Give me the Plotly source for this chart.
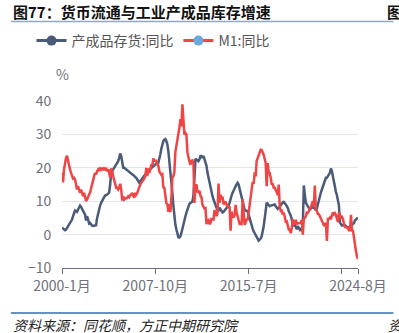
import plotly.graph_objects as go

# ---------------- data ----------------
years = list(range(2000, 2025))
months = [f"{y}-{m}月" for y in years for m in range(1, 13)][:296]

inventory_yoy = [
    # 2000
    2.1, 1.8, 1.5, 1.3, 1.5, 2.0, 2.5, 3.0, 3.3, 3.6, 4.5, 5.5,
    # 2001
    6.5, 7.2, 7.0, 6.8, 7.5, 8.0, 8.7, 8.3, 7.8, 7.2, 6.5, 6.0,
    # 2002
    4.2, 5.5, 4.5, 3.3, 3.5, 3.0, 2.7, 2.6, 2.7, 2.7, 2.8, 5.0,
    # 2003
    6.5, 8.0, 8.7, 9.5, 10.2, 10.8, 11.2, 11.7, 11.8, 12.0, 12.3, 12.6,
    # 2004
    15.0, 18.6, 19.0, 19.5, 20.0, 20.5, 21.0, 21.5, 22.0, 23.0, 24.3, 23.5,
    # 2005
    21.5, 20.0, 20.0, 19.8, 19.5, 19.2, 19.0, 18.8, 18.5, 18.3, 18.0, 17.8,
    # 2006
    17.6, 17.2, 17.0, 16.5, 16.2, 15.6, 16.0, 16.5, 17.0, 17.3, 17.6, 18.0,
    # 2007
    18.5, 18.8, 19.1, 19.4, 19.7, 20.0, 20.3, 20.6, 20.8, 21.0, 21.2, 21.5,
    # 2008
    21.5, 22.5, 24.0, 25.7, 27.0, 28.0, 28.4, 28.6, 28.0, 27.0, 25.0, 22.0,
    # 2009
    20.0, 16.8, 12.5, 8.7, 5.0, 3.0, 1.5, 0.0, -0.8, -0.9, -0.5, 0.5,
    # 2010
    2.0, 2.7, 4.0, 5.5, 6.6, 7.7, 8.7, 9.2, 9.5, 9.6, 10.0, 11.7,
    # 2011
    17.0, 22.7, 22.5, 22.2, 22.0, 22.5, 23.5, 23.5, 23.0, 23.6, 22.5, 21.5,
    # 2012
    20.6, 18.5, 17.0, 15.6, 13.5, 12.6, 11.5, 10.5, 9.5, 8.7, 8.0, 7.2,
    # 2013
    7.2, 8.1, 7.5, 7.0, 6.6, 6.8, 7.2, 7.5, 7.8, 8.2, 8.7, 9.5,
    # 2014
    11.0, 11.7, 12.5, 13.0, 13.8, 14.5, 15.0, 15.5, 15.0, 13.8, 12.5, 11.0,
    # 2015
    9.6, 8.5, 7.5, 7.2, 7.0, 7.0, 6.0, 4.8, 3.8, 2.8, 1.8, 1.0,
    # 2016
    0.5, 0.0, -0.5, -1.2, -1.8, -1.5, -1.2, -0.5, 0.6, 2.5, 4.8, 7.5,
    # 2017
    9.6, 9.2, 8.7, 8.5, 8.7, 8.8, 9.0, 9.0, 9.0, 8.5, 8.0, 7.7,
    # 2018
    8.0, 8.5, 9.0, 9.3, 9.6, 9.8, 9.5, 9.0, 8.5, 8.0, 7.0, 6.5,
    # 2019
    5.7, 4.5, 3.6, 2.5, 3.0, 2.2, 1.6, 2.5, 1.8, 1.5, 2.0, 1.0,
    # 2020
    3.0, 14.7, 12.0, 9.6, 9.0, 8.5, 8.0, 7.5, 7.8, 8.0, 8.2, 8.0,
    # 2021
    8.0, 7.2, 7.8, 9.0, 10.5, 12.0, 12.6, 13.5, 14.5, 15.5, 16.5, 17.0,
    # 2022
    17.0, 17.4, 17.8, 18.5, 19.8, 19.0, 17.4, 15.5, 13.8, 12.8, 11.8, 10.5,
    # 2023
    8.7, 3.6, 3.2, 2.7, 2.8, 3.0, 2.8, 2.5, 2.2, 2.0, 2.2, 2.5,
    # 2024
    3.0, 3.0, 3.2, 3.5, 4.2, 4.5, 4.8, 5.1,
]

m1_yoy = [
    # 2000
    18.6, 15.6, 19.5, 21.5, 23.0, 23.6, 22.0, 21.0, 19.5, 18.5, 17.5, 16.8,
    # 2001
    17.0, 16.5, 15.0, 13.5, 14.5, 13.0, 12.5, 13.5, 12.0, 11.5, 12.5, 11.0,
    # 2002
    10.0, 10.5, 11.5, 12.0, 12.6, 14.0, 15.5, 16.5, 17.5, 18.5, 18.0, 19.0,
    # 2003
    19.5, 19.0, 19.8, 19.5, 20.0, 19.3, 19.8, 19.5, 20.0, 19.0, 19.5, 18.5,
    # 2004
    17.0, 19.8, 19.0, 17.5, 16.0, 14.5, 14.0, 14.0, 13.5, 14.0, 15.2, 13.6,
    # 2005
    10.2, 11.5, 10.5, 10.8, 10.8, 11.0, 11.5, 11.2, 11.8, 12.0, 12.5, 11.8,
    # 2006
    11.0, 12.5, 12.0, 12.5, 13.5, 14.0, 15.0, 15.5, 15.8, 16.3, 16.8, 17.5,
    # 2007
    20.0, 17.5, 19.8, 18.5, 19.5, 21.0, 20.6, 22.8, 22.1, 22.2, 22.1, 21.0,
    # 2008
    20.7, 18.9, 18.3, 17.9, 18.1, 14.2, 14.0, 11.6, 9.4, 9.1, 6.8, 9.1,
    # 2009
    6.7, 10.9, 17.0, 17.5, 18.7, 24.8, 26.4, 27.7, 29.5, 32.0, 34.6, 32.4,
    # 2010
    39.0, 35.0, 29.9, 30.4, 29.9, 24.6, 22.9, 21.9, 20.9, 22.1, 22.2, 21.2,
    # 2011
    9.5, 14.5, 15.0, 12.9, 12.7, 13.1, 11.6, 11.2, 8.9, 8.4, 7.8, 7.9,
    # 2012
    3.1, 4.3, 4.4, 3.1, 3.5, 4.7, 4.6, 4.5, 7.3, 6.1, 5.5, 6.5,
    # 2013
    15.3, 9.5, 11.9, 11.0, 11.3, 9.1, 9.7, 9.9, 8.9, 8.9, 8.0, 8.5,
    # 2014
    1.2, 6.9, 5.4, 5.3, 5.7, 8.9, 6.7, 5.7, 4.8, 3.2, 3.2, 3.2,
    # 2015
    10.6, 5.6, 2.9, 3.7, 4.7, 4.3, 6.6, 9.3, 11.4, 14.0, 15.7, 15.2,
    # 2016
    18.6, 17.4, 22.1, 22.9, 23.7, 24.6, 25.4, 25.3, 24.7, 23.9, 22.7, 21.4,
    # 2017
    14.5, 21.4, 18.8, 18.5, 17.0, 15.0, 15.3, 14.0, 14.0, 13.0, 12.7, 11.8,
    # 2018
    15.0, 8.5, 7.1, 7.2, 6.0, 6.6, 5.1, 3.9, 4.0, 2.7, 1.5, 1.5,
    # 2019
    0.4, 2.0, 4.6, 2.9, 3.4, 4.4, 3.1, 3.4, 3.4, 3.3, 3.5, 4.4,
    # 2020
    0.0, 4.8, 5.0, 5.5, 6.8, 6.5, 6.9, 8.0, 8.1, 9.1, 10.0, 8.6,
    # 2021
    14.7, 7.4, 7.1, 6.2, 6.1, 5.5, 4.9, 4.2, 3.7, 2.8, 3.0, 3.5,
    # 2022
    -1.9, 4.7, 4.7, 5.1, 4.6, 5.8, 6.7, 6.1, 6.4, 5.8, 4.6, 3.7,
    # 2023
    6.7, 5.8, 5.1, 5.3, 4.7, 3.1, 2.3, 2.2, 2.1, 1.9, 1.3, 1.3,
    # 2024
    5.9, 1.2, 1.1, -1.4, -4.2, -5.0, -6.6, -7.3,
]

series_names = ["产成品存货:同比", "M1:同比"]
tick_vals = ["2000-1月", "2007-10月", "2015-7月", "2023-4月", "2024-8月"]
tick_text = ["2000-1月", "2007-10月", "2015-7月", "", "2024-8月"]
y_ticks = [-10, 0, 10, 20, 30, 40]

assert len(months) == len(inventory_yoy) == len(m1_yoy) == 296

# ---------------- style ----------------
W, H = 399, 333
L, R, T, B = 62, 363, 101, 268
C_INV = "#4A5A79"
C_M1 = "#F04545"
C_M1_DOT = "#6AA8E0"
AXIS_GRAY = "#6E7079"
FONT = "Noto Sans CJK SC, Noto Sans, sans-serif"


def px_x(x):
    return (x - L) / (R - L)


def px_y(y):
    return (B - y) / (B - T)


fig = go.Figure()

fig.add_trace(go.Scatter(x=months, y=inventory_yoy, mode="lines",
                         line=dict(color=C_INV, width=2.5),
                         showlegend=False, hoverinfo="skip"))
fig.add_trace(go.Scatter(x=months, y=m1_yoy, mode="lines",
                         line=dict(color=C_M1, width=2.5),
                         showlegend=False, hoverinfo="skip"))

# legend entries (line with circle symbol)
fig.add_trace(go.Scatter(x=[None], y=[None], mode="lines+markers",
                         name=series_names[0],
                         line=dict(color=C_INV, width=3),
                         marker=dict(color=C_INV, size=10)))
fig.add_trace(go.Scatter(x=[None], y=[None], mode="lines+markers",
                         name=series_names[1],
                         line=dict(color=C_M1, width=3),
                         marker=dict(color=C_M1_DOT, size=10)))

fig.update_layout(
    width=W, height=H,
    margin=dict(l=L, r=W - R, t=T, b=H - B, pad=0),
    paper_bgcolor="white", plot_bgcolor="white",
    font=dict(family=FONT, size=14, color=AXIS_GRAY),
    showlegend=True,
    legend=dict(orientation="h", x=px_x(31), y=px_y(41),
                xanchor="left", yanchor="middle",
                font=dict(size=14, color="#555555", family=FONT),
                itemwidth=30, tracegroupgap=0, bgcolor="rgba(0,0,0,0)"),
    xaxis=dict(type="category", categoryorder="array", categoryarray=months,
               range=[0, len(months) - 1],
               showgrid=False, zeroline=False,
               showline=True, linecolor=AXIS_GRAY, linewidth=1,
               ticks="outside", ticklen=5, tickcolor=AXIS_GRAY, tickwidth=1,
               tickvals=tick_vals, ticktext=tick_text,
               tickfont=dict(size=14, color=AXIS_GRAY), fixedrange=True),
    yaxis=dict(range=[-10, 40], tickvals=y_ticks,
               showgrid=True, gridcolor="#E0E6F1", gridwidth=1,
               zeroline=False, showline=False,
               ticks="outside", ticklen=7, tickcolor="rgba(0,0,0,0)",
               tickfont=dict(size=14, color=AXIS_GRAY), fixedrange=True),
)

annotations = [
    dict(text="<b>图77：货币流通与工业产成品库存增速</b>", x=px_x(10), y=px_y(12),
         xanchor="left", yanchor="middle", showarrow=False,
         font=dict(size=15, color="#111111", family=FONT)),
    dict(text="<b>图</b>", x=px_x(390), y=px_y(12),
         xanchor="left", yanchor="middle", showarrow=False,
         font=dict(size=15, color="#111111", family=FONT)),
    dict(text="%", x=px_x(62), y=px_y(74),
         xanchor="center", yanchor="middle", showarrow=False,
         font=dict(size=14, color=AXIS_GRAY, family=FONT)),
    dict(text="<i>资料来源：同花顺，方正中期研究院</i>", x=px_x(10), y=px_y(325),
         xanchor="left", yanchor="middle", showarrow=False,
         font=dict(size=14, color="#222222", family=FONT)),
    dict(text="<i>资</i>", x=px_x(391), y=px_y(325),
         xanchor="left", yanchor="middle", showarrow=False,
         font=dict(size=14, color="#222222", family=FONT)),
]
for a in annotations:
    a.update(xref="paper", yref="paper")
fig.update_layout(annotations=annotations)

fig.add_shape(type="line", xref="paper", yref="paper",
              x0=px_x(10), x1=px_x(399), y0=px_y(21.5), y1=px_y(21.5),
              line=dict(color="#8FA9C2", width=1.5))
fig.add_shape(type="line", xref="paper", yref="paper",
              x0=px_x(10), x1=px_x(399), y0=px_y(313), y1=px_y(313),
              line=dict(color="#2F6FA8", width=1.5))

fig.write_html("out.html")
